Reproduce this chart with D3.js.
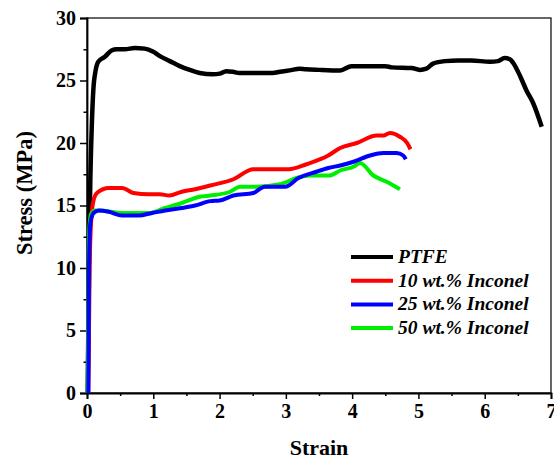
<!DOCTYPE html>
<html>
<head>
<meta charset="utf-8">
<script src="https://cdn.jsdelivr.net/npm/d3@7"></script>
<style>
  body { margin: 0; background: #fff; }
  text { font-family: "Liberation Serif", "Times New Roman", serif; font-weight: bold; }
</style>
</head>
<body>
<div class="canvas"></div>
<script>
// strain / stress pairs
const ptfe = [
  [0.01, 0], [0.03, 10], [0.05, 17], [0.07, 21], [0.095, 24.2], [0.13, 25.8], [0.17, 26.5],
  [0.27, 26.9], [0.37, 27.4], [0.45, 27.5], [0.57, 27.5], [0.72, 27.6], [0.87, 27.55],
  [1.0, 27.3], [1.1, 26.95], [1.25, 26.55], [1.4, 26.15], [1.55, 25.85], [1.7, 25.6],
  [1.9, 25.5], [2.0, 25.55], [2.1, 25.75], [2.2, 25.7], [2.3, 25.6], [2.8, 25.6],
  [2.91, 25.7], [3.1, 25.85], [3.2, 25.95], [3.3, 25.9], [3.5, 25.85], [3.82, 25.8],
  [3.99, 26.15], [4.2, 26.15], [4.5, 26.15], [4.6, 26.05], [4.9, 26.0], [5.02, 25.85],
  [5.12, 25.95], [5.22, 26.35], [5.4, 26.55], [5.6, 26.6], [5.8, 26.6], [6.08, 26.5],
  [6.2, 26.55], [6.3, 26.8], [6.38, 26.7], [6.43, 26.4], [6.53, 25.4], [6.63, 24.2],
  [6.73, 23.2], [6.86, 21.3]
];
const inconel10 = [
  [0.02, 0], [0.04, 10], [0.06, 13.5], [0.09, 15.2], [0.15, 16.0], [0.33, 16.4], [0.53, 16.4],
  [0.7, 16.0], [0.93, 15.9], [1.1, 15.9], [1.24, 15.8], [1.43, 16.1], [1.63, 16.3],
  [1.86, 16.6], [2.21, 17.1], [2.51, 17.9], [3.04, 17.9], [3.31, 18.3], [3.64, 19.0],
  [3.82, 19.6], [4.07, 20.0], [4.37, 20.6], [4.47, 20.6], [4.57, 20.8], [4.72, 20.5],
  [4.83, 20.0], [4.88, 19.5]
];
const inconel25 = [
  [0.02, 0], [0.03, 10], [0.05, 13.6], [0.1, 14.4], [0.18, 14.6], [0.33, 14.5], [0.53, 14.2],
  [0.78, 14.2], [0.98, 14.4], [1.18, 14.6], [1.43, 14.8], [1.63, 15.0], [1.86, 15.35],
  [2.0, 15.4], [2.21, 15.8], [2.51, 16.0], [2.68, 16.5], [2.99, 16.5], [3.19, 17.2],
  [3.46, 17.7], [3.64, 18.0], [3.82, 18.2], [4.02, 18.5], [4.27, 19.0], [4.47, 19.2],
  [4.67, 19.2], [4.77, 19.0], [4.81, 18.7]
];
const inconel50 = [
  [0.01, 0], [0.03, 12.5], [0.06, 14.3], [0.12, 14.6], [0.18, 14.6], [0.53, 14.4],
  [0.93, 14.4], [1.18, 14.8], [1.43, 15.2], [1.7, 15.7], [1.86, 15.8], [2.16, 16.1],
  [2.31, 16.5], [2.56, 16.5], [2.91, 16.7], [3.16, 17.2], [3.36, 17.4], [3.66, 17.4],
  [3.82, 17.8], [4.02, 18.1], [4.12, 18.4], [4.32, 17.4], [4.52, 16.9], [4.72, 16.3]
];

const series = [
  { name: 'PTFE', values: ptfe, color: '#000000', width: 4.5 },
  { name: '10 wt.% Inconel', values: inconel10, color: '#ff0000', width: 4 },
  { name: '50 wt.% Inconel', values: inconel50, color: '#00ee00', width: 4 },
  { name: '25 wt.% Inconel', values: inconel25, color: '#0000ff', width: 4 },
];
const legendOrder = ['PTFE', '10 wt.% Inconel', '25 wt.% Inconel', '50 wt.% Inconel'];

const xTicks = [0, 1, 2, 3, 4, 5, 6, 7];
const yTicks = [0, 5, 10, 15, 20, 25, 30];

const width = 554, height = 461;
const margin = { left: 87, right: 3, top: 18, bottom: 68 };

const svg = d3.select('.canvas')
  .append('svg')
  .attr('width', width)
  .attr('height', height);

const x = d3.scaleLinear().domain([0, 7]).range([margin.left, width - margin.right]);
const y = d3.scaleLinear().domain([0, 30]).range([height - margin.bottom, margin.top]);

// frame
svg.append('rect')
  .attr('x', x(0)).attr('y', y(30))
  .attr('width', x(7) - x(0)).attr('height', y(0) - y(30))
  .attr('fill', 'none').attr('stroke', '#000').attr('stroke-width', 1.2);

// minor ticks
const xMinor = d3.range(0.5, 7, 1);
const yMinor = d3.range(2.5, 30, 5);

svg.append('g')
  .attr('transform', `translate(0,${y(0)})`)
  .call(d3.axisBottom(x).tickValues(xTicks).tickSize(6).tickPadding(5).tickFormat(d3.format('d')));
svg.append('g')
  .attr('transform', `translate(0,${y(0)})`)
  .call(d3.axisBottom(x).tickValues(xMinor).tickSize(3).tickFormat(''))
  .select('.domain').remove();

svg.append('g')
  .attr('transform', `translate(${x(0)},0)`)
  .call(d3.axisLeft(y).tickValues(yTicks).tickSize(7).tickPadding(4).tickFormat(d3.format('d')));
svg.append('g')
  .attr('transform', `translate(${x(0)},0)`)
  .call(d3.axisLeft(y).tickValues(yMinor).tickSize(3.5).tickFormat(''))
  .select('.domain').remove();

svg.selectAll('.domain').attr('stroke-width', 1.8);
svg.selectAll('.tick line').attr('stroke-width', 1.5);
svg.selectAll('.tick text')
  .attr('font-size', 20)
  .attr('font-family', '"Liberation Serif", serif')
  .attr('font-weight', 'bold')
  .attr('fill', '#000');

// axis titles
svg.append('text')
  .attr('x', x(3.5)).attr('y', 455)
  .attr('text-anchor', 'middle')
  .attr('font-size', 22)
  .text('Strain');

svg.append('text')
  .attr('transform', `translate(32,${193}) rotate(-90)`)
  .attr('text-anchor', 'middle')
  .attr('font-size', 22.5)
  .text('Stress (MPa)');

// curves
const line = d3.line()
  .x(d => x(d[0]))
  .y(d => y(d[1]))
  .curve(d3.curveMonotoneX);

svg.append('g')
  .selectAll('path')
  .data(series)
  .join('path')
  .attr('d', d => line(d.values))
  .attr('fill', 'none')
  .attr('stroke', d => d.color)
  .attr('stroke-width', d => d.width)
  .attr('stroke-linejoin', 'round');

// legend
const legend = svg.append('g')
  .attr('transform', 'translate(351,257)');

const rows = legend.selectAll('g')
  .data(legendOrder.map(n => series.find(s => s.name === n)))
  .join('g')
  .attr('transform', (d, i) => `translate(0,${i * 23.7})`);

rows.append('line')
  .attr('x1', 0).attr('x2', 42)
  .attr('stroke', d => d.color)
  .attr('stroke-width', 4);

rows.append('text')
  .attr('x', 47).attr('y', 6)
  .attr('font-size', 19.5)
  .attr('font-style', 'italic')
  .text(d => d.name);
</script>
</body>
</html>
